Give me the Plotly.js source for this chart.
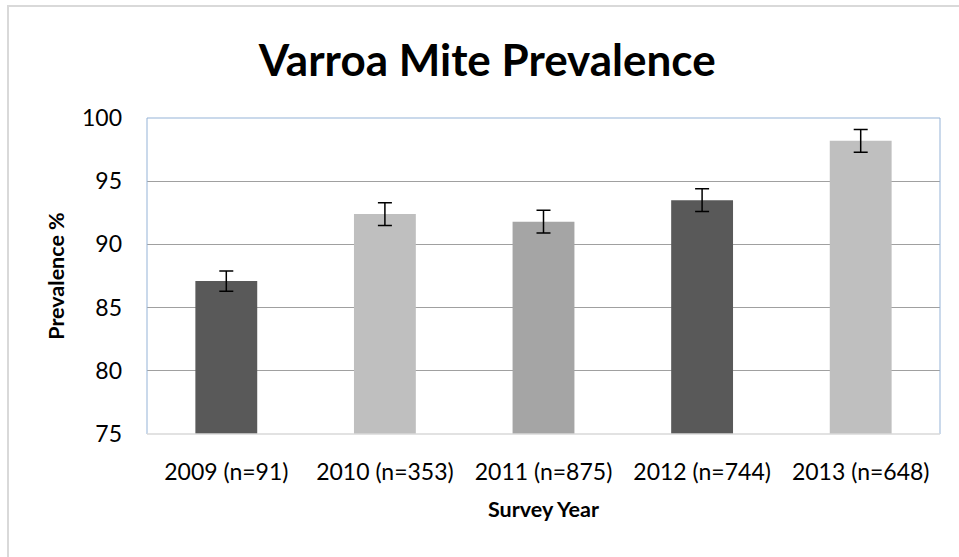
<!DOCTYPE html>
<html>
<head>
<meta charset="utf-8">
<script src="https://cdn.plot.ly/plotly-3.0.1.min.js"></script>
<style>
html,body{margin:0;padding:0;background:#fff;}
#wrap{position:relative;width:959px;height:557px;}
#chart{width:959px;height:557px;}
#frame{position:absolute;left:7px;top:5px;right:-5px;bottom:-5px;border-left:2px solid #d9d9d9;border-top:2px solid #d9d9d9;pointer-events:none;}
</style>
</head>
<body>
<div id="wrap"><div id="chart"></div><div id="frame"></div></div>
<script>
const categories = ["2009 (n=91)", "2010 (n=353)", "2011 (n=875)", "2012 (n=744)", "2013 (n=648)"];
const prevalence = [87.1, 92.4, 91.8, 93.5, 98.2];
const errors = [0.8, 0.9, 0.9, 0.9, 0.9];
const barColors = ["#595959", "#bfbfbf", "#a5a5a5", "#595959", "#bfbfbf"];
const yTicks = [75, 80, 85, 90, 95, 100];

const FONT = "Lato, 'Open Sans', sans-serif";

const trace = {
  type: "bar",
  x: categories,
  y: prevalence,
  marker: {color: barColors},
  error_y: {type: "data", array: errors, visible: true, color: "#000", thickness: 1.5, width: 7},
  hoverinfo: "x+y"
};

const layout = {
  width: 959, height: 557,
  margin: {l: 147, r: 19, t: 118, b: 123},
  paper_bgcolor: "#fff", plot_bgcolor: "#fff",
  showlegend: false,
  bargap: 0.61,
  title: {text: "<b>Varroa Mite Prevalence</b>", font: {family: FONT, size: 44, color: "#000"}, x: 0.508, xanchor: "center", y: 0.892, yanchor: "middle"},
  xaxis: {
    type: "category",
    showline: false, showgrid: false, zeroline: false, ticks: "",
    ticklabelstandoff: 22,
    tickfont: {family: FONT, size: 23, color: "#000"},
    title: {text: "<b>Survey Year</b>", font: {family: FONT, size: 21.5, color: "#000"}, standoff: 17}
  },
  yaxis: {
    range: [75, 100],
    tickvals: yTicks,
    showline: false, zeroline: false,
    showgrid: true, gridcolor: "#a0a0a0", gridwidth: 1,
    ticks: "",
    ticklabelstandoff: 24,
    tickfont: {family: FONT, size: 23, color: "#000"},
    title: {text: "<b>Prevalence %</b>", font: {family: FONT, size: 21.5, color: "#000"}, standoff: 11}
  },
  shapes: [
    {type: "line", xref: "paper", yref: "paper", x0: 0, x1: 0, y0: 0, y1: 1, line: {color: "#95b3d7", width: 1}},
    {type: "line", xref: "paper", yref: "paper", x0: 0, x1: 1, y0: 1, y1: 1, line: {color: "#95b3d7", width: 1}},
    {type: "line", xref: "paper", yref: "paper", x0: 1, x1: 1, y0: 0, y1: 1, line: {color: "#95b3d7", width: 1}},
    {type: "line", xref: "paper", yref: "paper", x0: 0, x1: 1, y0: 0, y1: 0, line: {color: "#d9d9d9", width: 1.5}}
  ]
};

Plotly.newPlot("chart", [trace], layout, {displayModeBar: false, staticPlot: true});
</script>
</body>
</html>
